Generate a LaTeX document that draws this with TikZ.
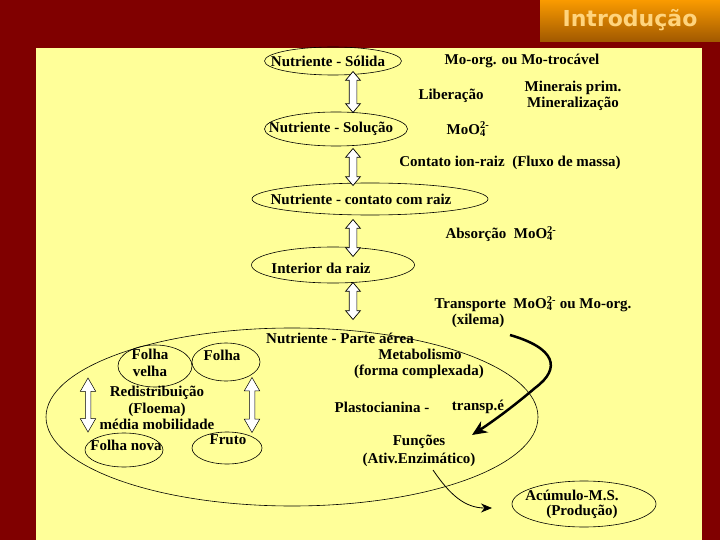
\documentclass[tikz,border=0pt]{standalone}
\usepackage{fontspec}
\setmainfont{Liberation Serif}
\newfontfamily\titlefont{DejaVu Sans}
\usetikzlibrary{shapes.geometric,shapes.arrows,arrows.meta,positioning}

\definecolor{bgred}{RGB}{128,0,0}
\definecolor{panel}{RGB}{255,255,153}
\definecolor{titletop}{RGB}{250,155,0}
\definecolor{titlebot}{RGB}{160,88,0}
\definecolor{titletext}{RGB}{255,212,125}
\newcommand{\mooq}{MoO\rlap{\textsubscript{4}}\textsuperscript{2-}}

\begin{document}
\begin{tikzpicture}[x=1pt,y=-1pt,
  oval/.style={draw,ellipse,inner sep=0pt,line width=0.6pt},
  lbl/.style={font=\fontsize{15}{16.5}\selectfont\bfseries,inner sep=0pt,align=center},
  blockarr/.style={double arrow,draw,fill=white,line width=0.7pt,inner sep=3.5pt,
                   minimum width=14pt,double arrow head extend=3.5pt,
                   double arrow tip angle=80,shape border rotate=90},
  thinarr/.style={blockarr,line width=0.5pt,inner sep=2.5pt,minimum width=15pt,
                  double arrow head extend=5pt,double arrow tip angle=60},
  flow/.style={line width=2.5pt,-{Stealth[length=15pt,width=13pt]}},
  link/.style={line width=0.8pt,-{Stealth[length=11pt,width=9pt]}}
]
  % page
  \useasboundingbox (0,0) rectangle (720,540);
  \fill[bgred] (0,0) rectangle (720,540);
  \fill[panel] (36,48) rectangle (702,540);
  \shade[top color=titletop,bottom color=titlebot] (540,0) rectangle (720,42);
  \node[font=\titlefont\fontsize{22}{24}\selectfont\bfseries,text=titletext,inner sep=0pt]
    (titulo) at (630,20) {Introdução};

  % main chain
  \node[oval,minimum width=137pt,minimum height=28pt] (solida)   at (333,61)  {};
  \node[oval,minimum width=143pt,minimum height=34pt] (solucao)  at (336,129) {};
  \node[oval,minimum width=236pt,minimum height=32pt] (contato)  at (370,199) {};
  \node[oval,minimum width=163pt,minimum height=36pt] (interior) at (333,265) {};
  \node[oval,minimum width=492pt,minimum height=178pt] (aerea)   at (292,417) {};

  \node[blockarr,minimum height=41pt] (a1) at (353,92)  {};
  \node[blockarr,minimum height=37pt] (a2) at (353,167) {};
  \node[blockarr,minimum height=37pt] (a3) at (353,238) {};
  \node[blockarr,minimum height=37pt] (a4) at (353,301) {};

  \node[lbl] (tsolida)   at (328,61)  {Nutriente - Sólida};
  \node[lbl] (mo)        at (522,61)  {Mo-org. ou Mo-trocável};
  \node[lbl] (lib)       at (451,96)  {Liberação};
  \node[lbl] (min)       at (573,96)  {Minerais prim.\\Mineralização};
  \node[lbl] (tsolucao)  at (331,129) {Nutriente - Solução};
  \node[lbl] (ion1)      at (468,129) {\mooq};
  \node[lbl] (fluxo)     at (510,163) {Contato ion-raiz\ \ (Fluxo de massa)};
  \node[lbl] (tcontato)  at (361,199) {Nutriente - contato com raiz};
  \node[lbl] (abs)       at (501,234) {Absorção\ \ \mooq};
  \node[lbl] (tinterior) at (321,268) {Interior da raiz};
  \node[lbl] (transp)    at (533,304) {Transporte\ \ \mooq{} ou Mo-org.};
  \node[lbl] (xil)       at (478,321) {(xilema)};

  % parte aerea
  \node[lbl] (taerea) at (340,338) {Nutriente - Parte aérea};
  \node[lbl] (metab)  at (420,354) {Metabolismo};
  \node[lbl] (forma)  at (419,372) {(forma complexada)};
  \node[lbl] (plast)  at (382,407) {Plastocianina -};
  \node[lbl] (tre)    at (478,407) {transp.é};
  \node[lbl,font=\fontsize{15}{18}\selectfont\bfseries] (func) at (419,451) {Funções\\(Ativ.Enzimático)};

  \node[oval,minimum width=74pt,minimum height=42pt] (velha) at (155,366) {};
  \node[oval,minimum width=68pt,minimum height=38pt] (folha) at (226,362) {};
  \node[oval,minimum width=78pt,minimum height=34pt] (nova)  at (124,450) {};
  \node[oval,minimum width=70pt,minimum height=32pt] (fruto) at (227,448) {};

  \node[lbl,font=\fontsize{15}{17}\selectfont\bfseries] (tvelha) at (150,363) {Folha\\velha};
  \node[lbl] (tfolha) at (222,355) {Folha};
  \node[lbl] (redis)  at (157,408) {Redistribuição\\(Floema)\\média mobilidade};
  \node[lbl] (tnova)  at (126,445) {Folha nova};
  \node[lbl] (tfruto) at (228,440) {Fruto};

  \node[thinarr,minimum height=54pt] (b1) at (88,405)  {};
  \node[thinarr,minimum height=55pt] (b2) at (252,405) {};

  % producao
  \node[oval,minimum width=144pt,minimum height=46pt] (acum) at (584,504) {};
  \node[lbl] (tacum) at (572,495) {Acúmulo-M.S.};
  \node[lbl] (prod)  at (582,512) {(Produção)};

  \coordinate (xs) at (510,335);
  \coordinate (fs) at (433,470);
  \draw[flow] (xs) .. controls (555,348) and (562,368) .. (535,388)
                   .. controls (515,405) and (495,420) .. (472,435);
  \draw[link] (fs) .. controls (450,495) and (465,508) .. (492,508);
\end{tikzpicture}
\end{document}
